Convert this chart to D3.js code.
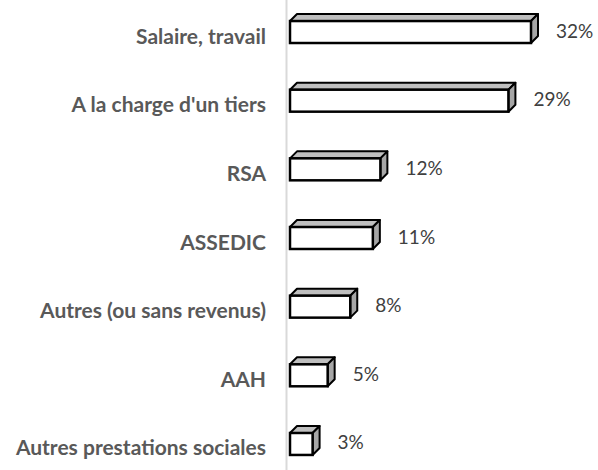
<!DOCTYPE html>
<html>
<head>
<meta charset="utf-8">
<script src="https://cdn.jsdelivr.net/npm/d3@7"></script>
<style>
  html, body { margin: 0; padding: 0; background: #fff; }
  svg { display: block; }
</style>
</head>
<body>
<div id="chart"></div>
<script>
// Data
const categories = [
  'Salaire, travail',
  "A la charge d'un tiers",
  'RSA',
  'ASSEDIC',
  'Autres (ou sans revenus)',
  'AAH',
  'Autres prestations sociales'
];
const values = [32, 29, 12, 11, 8, 5, 3];

const width = 598;
const height = 470;

// 3D box depth
const depthX = 7;
const depthY = -7;

const svg = d3.select('#chart')
  .append('svg')
  .attr('width', width)
  .attr('height', height);

const x = d3.scaleLinear()
  .domain([0, 32])
  .range([290, 531]);

const y = d3.scaleBand()
  .domain(categories)
  .range([-2.3, 478.3])
  .paddingInner(0.68)
  .paddingOuter(0.34);

// Vertical axis line
svg.append('line')
  .attr('x1', 286.5)
  .attr('x2', 286.5)
  .attr('y1', 0)
  .attr('y2', height)
  .attr('stroke', '#d9d9d9')
  .attr('stroke-width', 2);

// Category labels
svg.append('g')
  .selectAll('text')
  .data(categories)
  .join('text')
  .attr('x', 266)
  .attr('y', d => y(d) + y.bandwidth() / 2 + 3)
  .attr('text-anchor', 'end')
  .attr('dominant-baseline', 'central')
  .attr('font-family', 'Lato, "Open Sans", sans-serif')
  .attr('font-weight', 'bold')
  .attr('font-size', '21px')
  .attr('fill', '#595959')
  .text(d => d);

// Bars as 3D boxes
const bars = svg.append('g')
  .selectAll('g')
  .data(values)
  .join('g');

bars.each(function(v, i) {
  const g = d3.select(this);
  const x0 = x(0);
  const x1 = x(v);
  const y0 = y(categories[i]);
  const y1 = y0 + y.bandwidth();

  // top face
  g.append('path')
    .attr('d', `M${x0},${y0} L${x0 + depthX},${y0 + depthY} L${x1 + depthX},${y0 + depthY} L${x1},${y0} Z`)
    .attr('fill', '#bfbfbf')
    .attr('stroke', '#000')
    .attr('stroke-width', 2)
    .attr('stroke-linejoin', 'round');

  // side face
  g.append('path')
    .attr('d', `M${x1},${y0} L${x1 + depthX},${y0 + depthY} L${x1 + depthX},${y1 + depthY} L${x1},${y1} Z`)
    .attr('fill', '#a6a6a6')
    .attr('stroke', '#000')
    .attr('stroke-width', 2)
    .attr('stroke-linejoin', 'round');

  // front face
  g.append('rect')
    .attr('x', x0)
    .attr('y', y0)
    .attr('width', x1 - x0)
    .attr('height', y1 - y0)
    .attr('fill', '#fff')
    .attr('stroke', '#000')
    .attr('stroke-width', 2.5);
});

// Value labels
svg.append('g')
  .selectAll('text')
  .data(values)
  .join('text')
  .attr('x', d => x(d) + 25)
  .attr('y', (d, i) => y(categories[i]) + y.bandwidth() / 2 - 2)
  .attr('dominant-baseline', 'central')
  .attr('font-family', 'Lato, "Open Sans", sans-serif')
  .attr('font-size', '19px')
  .attr('fill', '#404040')
  .text(d => d + '%');
</script>
</body>
</html>
